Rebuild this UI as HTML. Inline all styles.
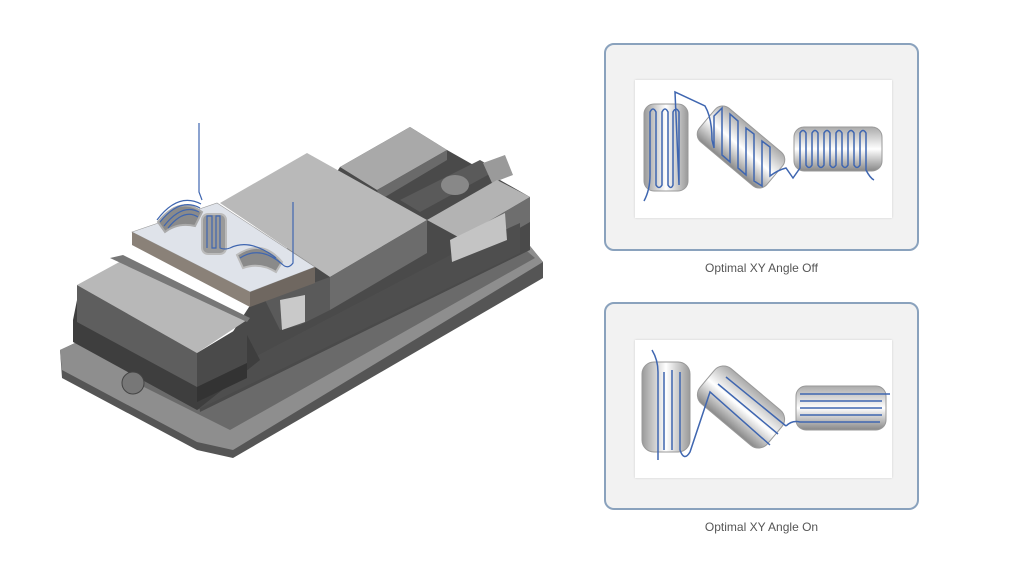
<!DOCTYPE html>
<html><head><style>
body{margin:0;width:1024px;height:576px;background:#fff;overflow:hidden;font-family:"Liberation Sans",sans-serif}
.panel{position:absolute;left:604px;width:315px;height:208px;background:#f2f2f2;border:2px solid #8aa2bd;border-radius:10px;box-sizing:border-box}
.inner{position:absolute;left:29px;width:257px;height:138px;background:#fff;box-shadow:0 0 2px #ccc}
.lbl{position:absolute;width:315px;left:604px;text-align:center;font-size:12px;color:#555}
</style></head><body>
<svg width="1024" height="576" style="position:absolute;left:0;top:0">
<defs>
<linearGradient id="pv" x1="0" x2="1"><stop offset="0" stop-color="#999"/><stop offset=".5" stop-color="#fff"/><stop offset="1" stop-color="#999"/></linearGradient>
<linearGradient id="ph" x1="0" y1="0" x2="0" y2="1"><stop offset="0" stop-color="#aaa"/><stop offset=".5" stop-color="#fff"/><stop offset="1" stop-color="#888"/></linearGradient>
</defs>
<!-- base flange -->
<polygon points="60,350 75,343 110,345 200,390 500,240 530,246 543,262 543,278 233,458 197,450 62,378" fill="#555"/>
<polygon points="60,350 75,343 110,345 200,390 500,240 530,246 543,262 233,450 197,442 62,370" fill="#8e8e8e"/>
<polygon points="120,350 200,395 520,245 535,258 230,430 140,385" fill="#6a6a6a"/>
<!-- back body -->
<polygon points="340,167 410,127 447,150 530,197 530,250 200,412 197,387" fill="#4a4a4a"/>
<polygon points="340,167 410,127 447,150 377,190" fill="#a9a9a9"/>
<polygon points="377,190 447,150 447,160 380,200" fill="#6a6a6a"/>
<polygon points="400,200 480,160 497,170 420,212" fill="#5a5a5a"/>
<ellipse cx="455" cy="185" rx="14" ry="10" fill="#888"/>
<polygon points="483,163 505,155 513,175 492,183" fill="#9a9a9a"/>
<!-- right end block -->
<polygon points="427,220 497,180 530,197 460,238" fill="#b3b3b3"/>
<polygon points="460,238 530,197 530,222 460,262" fill="#6e6e6e"/>
<polygon points="197,387 460,250 520,223 520,253 197,410" fill="#4e4e4e"/>
<polygon points="450,240 505,213 507,240 452,262" fill="#c4c4c4"/>
<!-- moving jaw -->
<polygon points="220,203 307,153 427,220 330,277" fill="#b9b9b9"/>
<polygon points="330,277 427,220 427,253 330,310" fill="#6c6c6c"/>
<polygon points="265,300 330,277 330,310 300,325 280,330" fill="#5a5a5a"/>
<polygon points="280,300 305,295 305,322 282,330" fill="#c9c9c9"/>
<!-- fixed jaw block -->
<polygon points="73,320 77,300 197,365 247,335 260,360 197,410 73,342" fill="#3e3e3e"/>
<polygon points="77,285 123,260 247,320 197,353" fill="#b8b8b8"/>
<polygon points="110,258 123,255 250,318 247,322" fill="#777"/>
<polygon points="77,285 197,353 197,387 77,322" fill="#5e5e5e"/>
<polygon points="197,353 247,323 247,363 197,387" fill="#4a4a4a"/>
<polygon points="197,387 247,363 247,378 197,402" fill="#333"/>
<!-- workpiece plate -->
<polygon points="132,232 217,203 315,267 250,292" fill="#dfe3ea" stroke="#999" stroke-width=".6"/>
<polygon points="132,232 250,292 250,307 132,245" fill="#8a8178"/>
<polygon points="250,292 315,267 315,283 250,307" fill="#6f6760"/>
<!-- pockets -->
<path d="M158,222 Q180,195 202,212 L195,226 Q178,222 165,232 Z" fill="#8a8a8a" stroke="#aaa" stroke-width="2"/>
<rect x="202" y="214" width="24" height="40" rx="6" fill="#9a9a9a" stroke="#bbb" stroke-width="2"/>
<path d="M237,255 Q262,238 282,262 L276,272 Q260,262 243,268 Z" fill="#8a8a8a" stroke="#bbb" stroke-width="2"/>
<circle cx="133" cy="383" r="11" fill="#777" stroke="#444"/>
<g fill="none" stroke="#3f66b0" stroke-width="1.2">
<path d="M199,123 V192 L202,200 M157,220 Q178,192 201,204 M160,222 Q180,197 200,208 M164,226 Q182,203 199,212 M168,228 Q184,208 198,217"/>
<path d="M207,248 V216 H212 V248 H216 V216 H220 V248 Q225,250 230,248 Q250,238 276,258 M240,258 Q260,245 282,264 Q288,270 293,263 V202"/>
</g>
</svg>

<div class="panel" style="top:43px"><div class="inner" style="top:35px"></div></div>
<div class="panel" style="top:302px"><div class="inner" style="top:36px"></div></div>
<div class="lbl" style="top:261px">Optimal XY Angle Off</div>
<div class="lbl" style="top:520px">Optimal XY Angle On</div>

<svg width="1024" height="576" style="position:absolute;left:0;top:0">
<!-- top panel -->
<rect x="644" y="104" width="44" height="87" rx="10" fill="url(#pv)" stroke="#999"/>
<rect x="794" y="127" width="88" height="44" rx="10" fill="url(#ph)" stroke="#999"/>
<g transform="translate(741,147) rotate(40)"><rect x="-44" y="-22" width="88" height="44" rx="10" fill="url(#ph)" stroke="#999"/></g>
<path fill="none" stroke="#3f66b0" stroke-width="1.5" d="M644,201 Q650,190 650,175 V112 Q653,106 656,112 V185 Q659,190 662,185 V112 Q665,106 668,112 V185 Q671,190 673,185 V112 Q676,106 679,112 V185 L675,92 L705,106 Q712,118 712,140 L714,148 V116 L722,108 V155 L730,162 V114 L738,121 V168 L746,175 V128 L754,134 V181 L762,186 V141 L770,147 V176 Q778,170 786,168 L793,178 L800,168 V133 Q803,128 806,133 V165 Q809,170 812,165 V133 Q815,128 818,133 V165 Q821,170 824,165 V133 Q827,128 830,133 V165 Q833,170 836,165 V133 Q839,128 842,133 V165 Q845,170 848,165 V133 Q851,128 854,133 V165 Q857,170 860,165 V133 Q863,128 866,133 V170 Q870,178 874,180"/>
<!-- bottom panel -->
<rect x="642" y="362" width="48" height="90" rx="12" fill="url(#pv)" stroke="#999"/>
<rect x="796" y="386" width="90" height="44" rx="10" fill="url(#ph)" stroke="#999"/>
<g transform="translate(741,407) rotate(40)"><rect x="-44" y="-23" width="88" height="46" rx="12" fill="url(#ph)" stroke="#999"/></g>
<path fill="none" stroke="#3f66b0" stroke-width="1.5" d="M652,350 Q658,360 658,372 V460 M664,372 V450 M672,370 V450 M680,372 V450 Q684,462 690,452 L710,392 L770,445 M718,384 L778,434 M726,377 L786,426 M786,426 Q792,420 800,422 H880 M800,415 H882 M800,408 H882 M800,401 H882 M800,394 H890"/>
</svg>
</body></html>
